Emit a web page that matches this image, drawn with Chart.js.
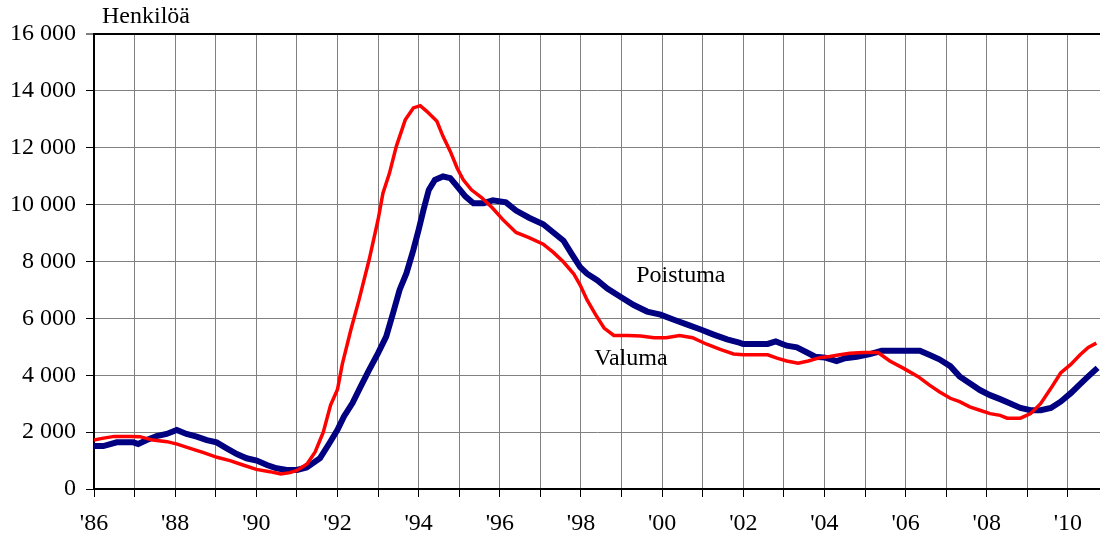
<!DOCTYPE html>
<html>
<head>
<meta charset="utf-8">
<script src="https://cdn.jsdelivr.net/npm/chart.js@4/dist/chart.umd.min.js"></script>
<style>
    body { margin: 0; background: #fff; }
    #wrap { width: 1100px; height: 543px; }
    #probe { position: absolute; left: -9999px; font-family: "Liberation Serif"; }
</style>
</head>
<body>
<span id="probe">Henkilöä 0123456789</span>
<div id="wrap"><canvas id="flowChart"></canvas></div>
<script>
// ================= DATA =================
const valumaYears = [1986.0, 1986.2, 1986.5, 1986.9, 1987.13, 1987.45, 1987.8, 1988.05, 1988.37, 1988.7,
    1989.03, 1989.35, 1989.67, 1990.0, 1990.33, 1990.6, 1990.83, 1991.0, 1991.25, 1991.45,
    1991.65, 1991.83, 1992.0, 1992.12, 1992.33, 1992.53, 1992.78, 1993.0, 1993.12, 1993.28,
    1993.45, 1993.67, 1993.87, 1994.04, 1994.2, 1994.45, 1994.6, 1994.78, 1994.95, 1995.1,
    1995.3, 1995.55, 1995.82, 1996.07, 1996.4, 1996.72, 1997.07, 1997.32, 1997.57, 1997.82,
    1997.98, 1998.15, 1998.36, 1998.57, 1998.81, 1999.15, 1999.47, 1999.8, 2000.1, 2000.43,
    2000.75, 2001.1, 2001.43, 2001.76, 2002.0, 2002.6, 2002.83, 2003.07, 2003.35, 2003.6,
    2003.89, 2004.13, 2004.38, 2004.63, 2004.95, 2005.32, 2005.61, 2005.94, 2006.31, 2006.58,
    2006.83, 2007.1, 2007.33, 2007.58, 2007.83, 2008.08, 2008.33, 2008.5, 2008.83, 2009.08,
    2009.33, 2009.58, 2009.82, 2010.07, 2010.3, 2010.5, 2010.7];
const valumaValues = [1720, 1780, 1850, 1850, 1840, 1720, 1665, 1580, 1430, 1280,
    1115, 1000, 845, 690, 610, 527, 575, 650, 880, 1300,
    2000, 2950, 3500, 4400, 5600, 6650, 8060, 9470, 10400, 11100,
    12050, 12980, 13400, 13480, 13280, 12930, 12400, 11870, 11280, 10870,
    10520, 10250, 9880, 9480, 9020, 8840, 8610, 8320, 7980, 7570,
    7170, 6650, 6130, 5660, 5400, 5400, 5380, 5320, 5320, 5400,
    5320, 5090, 4910, 4750, 4720, 4720, 4600, 4500, 4420, 4500,
    4620, 4660, 4720, 4770, 4800, 4800, 4500, 4250, 3950, 3660,
    3420, 3190, 3070, 2890, 2770, 2650, 2590, 2490, 2490, 2650,
    3010, 3540, 4080, 4380, 4720, 4980, 5130];

const poistumaYears = [1986.0, 1986.23, 1986.56, 1986.97, 1987.09, 1987.3, 1987.54, 1987.79, 1988.04, 1988.28,
    1988.53, 1988.78, 1989.02, 1989.27, 1989.52, 1989.76, 1990.01, 1990.26, 1990.5, 1990.75,
    1991.0, 1991.24, 1991.57, 1991.8, 1992.0, 1992.16, 1992.37, 1992.57, 1992.78, 1993.0,
    1993.2, 1993.37, 1993.53, 1993.7, 1993.87, 1994.0, 1994.12, 1994.25, 1994.4, 1994.6,
    1994.78, 1994.95, 1995.15, 1995.35, 1995.6, 1995.83, 1996.15, 1996.4, 1996.72, 1997.07,
    1997.32, 1997.57, 1997.77, 1997.98, 1998.15, 1998.4, 1998.65, 1998.97, 1999.3, 1999.63,
    1999.96, 2000.29, 2000.62, 2000.95, 2001.27, 2001.6, 2001.9, 2002.0, 2002.6, 2002.8,
    2003.07, 2003.32, 2003.57, 2003.77, 2004.02, 2004.3, 2004.51, 2004.8, 2005.12, 2005.41,
    2006.35, 2006.58, 2006.83, 2007.1, 2007.33, 2007.58, 2007.83, 2008.08, 2008.33, 2008.58,
    2008.83, 2009.08, 2009.33, 2009.58, 2009.82, 2010.07, 2010.3, 2010.5, 2010.73];
const poistumaValues = [1510, 1510, 1640, 1640, 1580, 1720, 1860, 1935, 2075, 1935,
    1840, 1720, 1640, 1430, 1230, 1080, 1000, 845, 730, 670,
    670, 760, 1085, 1610, 2080, 2550, 3020, 3600, 4190, 4780,
    5360, 6190, 7000, 7590, 8410, 9120, 9820, 10520, 10870, 10990,
    10930, 10640, 10290, 10050, 10050, 10150, 10080, 9790, 9540, 9310,
    9020, 8730, 8270, 7800, 7570, 7340, 7050, 6760, 6470, 6240,
    6130, 5950, 5780, 5610, 5430, 5260, 5150, 5100, 5100, 5190,
    5040, 4980, 4800, 4650, 4620, 4500, 4600, 4650, 4740, 4860,
    4860, 4720, 4560, 4320, 3960, 3720, 3480, 3300, 3160, 3010,
    2850, 2770, 2770, 2850, 3070, 3370, 3690, 3960, 4260];

const xTickYears = [1986, 1988, 1990, 1992, 1994, 1996, 1998, 2000, 2002, 2004, 2006, 2008, 2010];
const xTickLabels = ["'86", "'88", "'90", "'92", "'94", "'96", "'98", "'00", "'02", "'04", "'06", "'08", "'10"];
const yTickValues = [0, 2000, 4000, 6000, 8000, 10000, 12000, 14000, 16000];
const yTickLabels = ["0", "2 000", "4 000", "6 000", "8 000", "10 000", "12 000", "14 000", "16 000"];

const FONT = '"Liberation Serif", "DejaVu Serif", serif';

// ================= TEXT LABELS =================
const textLabels = {
    id: "textLabels",
    afterDatasetsDraw(chart) {
        const { ctx, chartArea } = chart;
        const x = chart.scales.x, y = chart.scales.y;
        ctx.save();
        ctx.font = "24px " + FONT;
        ctx.fillStyle = "#000";
        ctx.textBaseline = "middle";
        ctx.textAlign = "center";
        ctx.fillText("Poistuma", x.getPixelForValue(2000.46), y.getPixelForValue(7490));
        ctx.fillText("Valuma", x.getPixelForValue(1999.23), y.getPixelForValue(4570));
        ctx.textAlign = "left";
        ctx.fillText("Henkilöä", chartArea.left + 8, chartArea.top - 17);
        ctx.restore();
    }
};

// ================= CHART =================
function drawChart() {
    new Chart(document.getElementById("flowChart"), {
        type: "line",
        data: {
            datasets: [
                {
                    label: "Valuma",
                    data: valumaYears.map((yr, i) => ({ x: yr, y: valumaValues[i] })),
                    borderColor: "#ff0000",
                    borderWidth: 3.5,
                    pointRadius: 0,
                    tension: 0,
                    fill: false
                },
                {
                    label: "Poistuma",
                    data: poistumaYears.map((yr, i) => ({ x: yr, y: poistumaValues[i] })),
                    borderColor: "#000080",
                    borderWidth: 6,
                    pointRadius: 0,
                    tension: 0,
                    fill: false
                }
            ]
        },
        options: {
            responsive: true,
            maintainAspectRatio: false,
            animation: false,
            layout: { padding: { top: 34, right: 0, left: 0, bottom: 0 } },
            plugins: { legend: { display: false }, tooltip: { enabled: false } },
            scales: {
                x: {
                    type: "linear",
                    min: 1986,
                    max: 2010.79,
                    afterFit(scale) { scale.height = 54; },
                    border: { color: "#000", width: 2 },
                    grid: { color: "#808080", lineWidth: 1, tickColor: "#000", tickLength: 8, tickWidth: 1 },
                    ticks: {
                        stepSize: 1,
                        autoSkip: false,
                        includeBounds: false,
                        maxRotation: 0,
                        padding: 12,
                        color: "#000",
                        font: { family: FONT, size: 24 },
                        callback: (v) => {
                            const i = xTickYears.indexOf(v);
                            return i >= 0 ? xTickLabels[i] : "";
                        }
                    }
                },
                y: {
                    min: 0,
                    max: 16000,
                    afterFit(scale) { scale.width = 94; },
                    border: { color: "#000", width: 2 },
                    grid: {
                        color: (c) => c.tick && c.tick.value === 16000 ? "#000" : "#808080",
                        lineWidth: (c) => c.tick && c.tick.value === 16000 ? 2 : 1,
                        tickColor: "#000",
                        tickLength: 8,
                        tickWidth: 1
                    },
                    ticks: {
                        stepSize: 2000,
                        padding: 10,
                        color: "#000",
                        font: { family: FONT, size: 24 },
                        callback: (v) => {
                            const i = yTickValues.indexOf(v);
                            return i >= 0 ? yTickLabels[i] : "";
                        }
                    }
                }
            }
        },
        plugins: [textLabels]
    });
}

if (document.fonts && document.fonts.load) {
    document.fonts.load('24px "Liberation Serif"').then(drawChart, drawChart);
} else {
    drawChart();
}
</script>
</body>
</html>
